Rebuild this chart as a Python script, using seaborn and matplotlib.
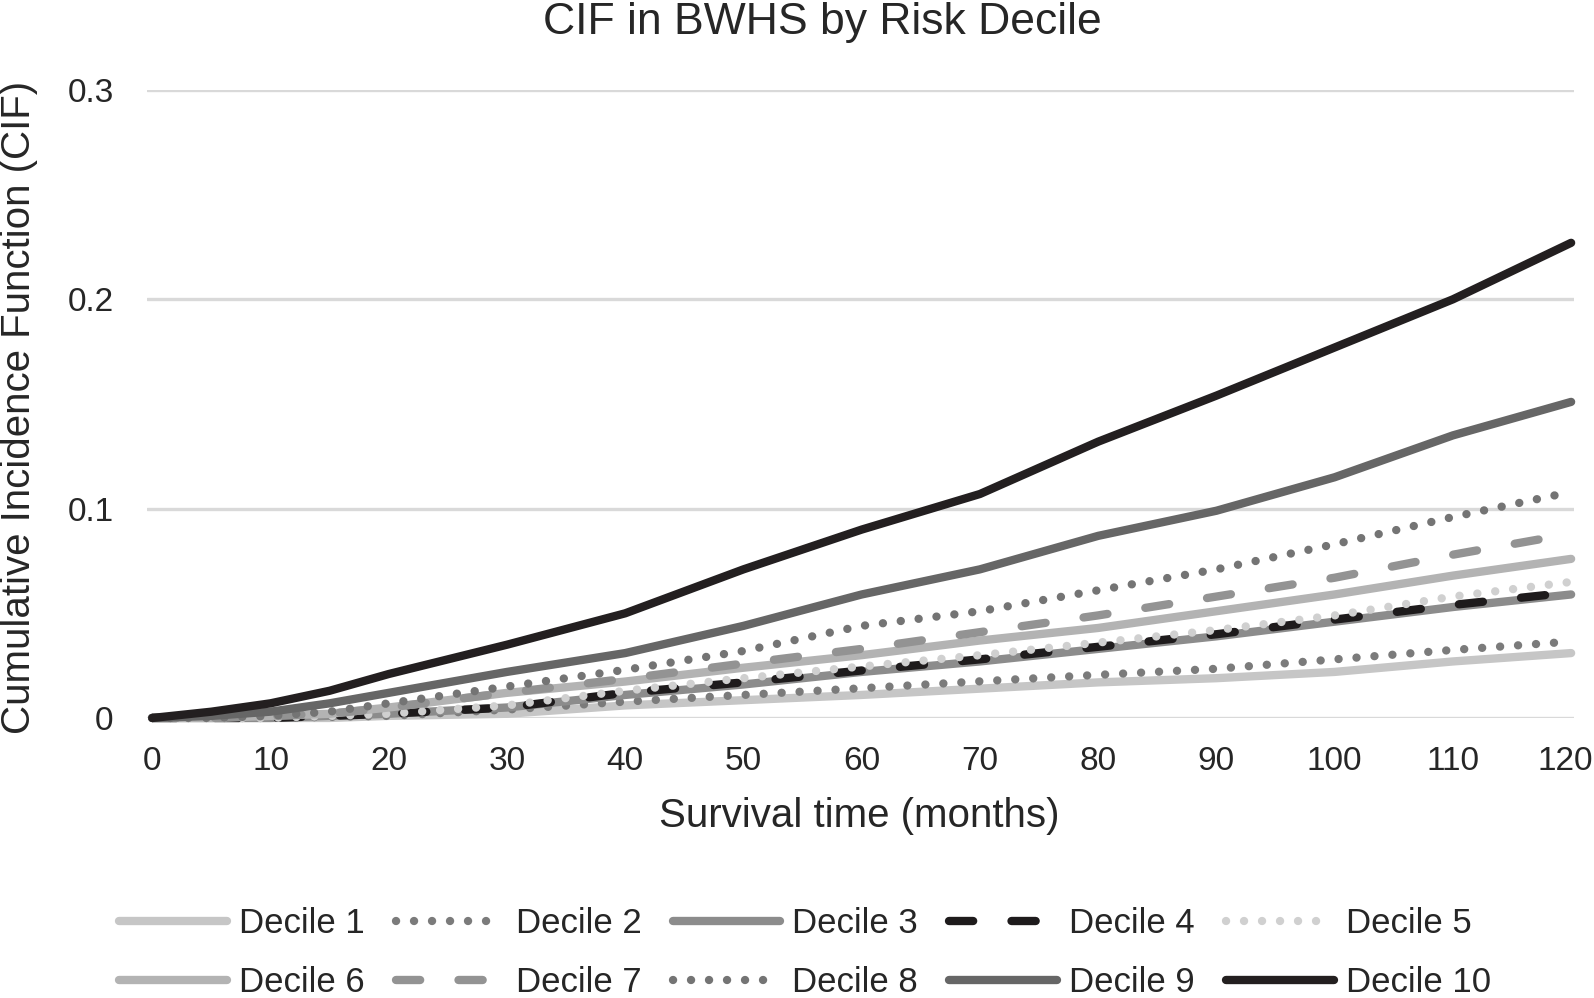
import numpy as np
import pandas as pd
import matplotlib
matplotlib.use('Agg')
import matplotlib.pyplot as plt
import matplotlib.transforms as mtransforms
import seaborn as sns

## CIF values, per risk decile
months = [0, 5, 10, 15, 20, 30, 40, 50, 60, 70, 80, 90, 100, 110, 120]
d1 = [0, 0, 0, 0, 0.001, 0.002, 0.006, 0.0085, 0.011, 0.014, 0.017, 0.019, 0.022, 0.027, 0.031]
d2 = [0, 0, 0, 0.0005, 0.001, 0.004, 0.0078, 0.011, 0.0142, 0.0175, 0.0206, 0.0235, 0.028, 0.0325, 0.0365]
d3 = [0, 0, 0, 0.001, 0.002, 0.005, 0.011, 0.016, 0.022, 0.027, 0.033, 0.039, 0.046, 0.053, 0.059]
d4 = [0, 0, 0, 0.001, 0.002, 0.005, 0.012, 0.017, 0.0227, 0.028, 0.034, 0.040, 0.047, 0.054, 0.060]
d5 = [0, 0, 0, 0.001, 0.002, 0.006, 0.013, 0.019, 0.0246, 0.030, 0.036, 0.042, 0.049, 0.058, 0.065]
d6 = [0, 0, 0.001, 0.002, 0.005, 0.012, 0.0174, 0.024, 0.030, 0.037, 0.043, 0.051, 0.059, 0.068, 0.076]
d7 = [0, 0, 0.001, 0.002, 0.005, 0.012, 0.0187, 0.026, 0.033, 0.041, 0.049, 0.058, 0.067, 0.078, 0.088]
d8 = [0, 0, 0.001, 0.003, 0.007, 0.015, 0.023, 0.032, 0.044, 0.051, 0.061, 0.071, 0.083, 0.096, 0.108]
d9 = [0, 0.001, 0.003, 0.007, 0.012, 0.022, 0.031, 0.044, 0.059, 0.071, 0.087, 0.099, 0.115, 0.135, 0.151]
d10 = [0, 0.003, 0.007, 0.013, 0.021, 0.035, 0.050, 0.071, 0.090, 0.107, 0.132, 0.154, 0.177, 0.200, 0.227]

labels = ['Decile %d' % i for i in range(1, 11)]
series = [d1, d2, d3, d4, d5, d6, d7, d8, d9, d10]
x_ticks = [0, 10, 20, 30, 40, 50, 60, 70, 80, 90, 100, 110, 120]
y_ticks = [0, 0.1, 0.2, 0.3]
y_ticklabels = ['0', '0.1', '0.2', '0.3']

solid = '-'
dots = (0, (0.01, 2.15))
dash = (0, (2.9, 4.6))
colors = ['#c6c6c6', '#7b7b7b', '#8c8c8c', '#1e1b1c', '#d0d0d0',
          '#b3b3b3', '#939393', '#747474', '#666666', '#231f20']
styles = [solid, dots, solid, dash, dots, solid, dash, dots, solid, solid]

sns.set_style('white')
plt.rcParams['font.family'] = ['Liberation Sans', 'DejaVu Sans']

fig = plt.figure(figsize=(15.94, 9.98), dpi=100)
ax = fig.add_axes([0.0922, 0.2806, 0.8953, 0.6292])

for lab, vals, c, ls in zip(labels, series, colors, styles):
    sns.lineplot(x=months, y=vals, color=c, linestyle=ls, linewidth=6,
                 label=lab, ax=ax, legend=False, clip_on=False,
                 solid_capstyle='round', dash_capstyle='round')

ax.set_xlim(-0.45, 120.25)
ax.set_ylim(0, 0.3)
ax.set_xticks(x_ticks)
ax.set_yticks(y_ticks)
ax.set_yticklabels(y_ticklabels)
ax.tick_params(axis='both', length=0, labelsize=24)
ax.tick_params(axis='x', pad=20)
ax.tick_params(axis='y', pad=24)
ax.grid(axis='y', color='#d9d9d9', linewidth=2.4)
ax.set_axisbelow(True)
sns.despine(ax=ax, left=True, bottom=True)
ax.set_xlabel('')
ax.set_ylabel('')

# last x label sits right at the image edge, nudge it in a bit
last = ax.get_xticklabels()[-1]
last.set_transform(last.get_transform() +
                   mtransforms.ScaledTranslation(-6 / 100, 0, fig.dpi_scale_trans))

fig.text(0.516, 0.977, 'CIF in BWHS by Risk Decile', fontsize=32,
         ha='center', va='center')
fig.text(0.539, 0.182, 'Survival time (months)', fontsize=29,
         ha='center', va='center')
fig.text(0.012, 0.592, 'Cumulative Incidence Function (CIF)', fontsize=29,
         ha='center', va='center', rotation=90)

# legend filled row by row like the original
handles, labs = ax.get_legend_handles_labels()
order = [0, 5, 1, 6, 2, 7, 3, 8, 4, 9]
fig.legend([handles[i] for i in order], [labs[i] for i in order],
           loc='center', bbox_to_anchor=(0.505, 0.045), ncol=5,
           frameon=False, fontsize=25, handlelength=3.1,
           handletextpad=0.35, columnspacing=0.9, labelspacing=0.75,
           borderaxespad=0)

fig.savefig('out.png', dpi=100)
